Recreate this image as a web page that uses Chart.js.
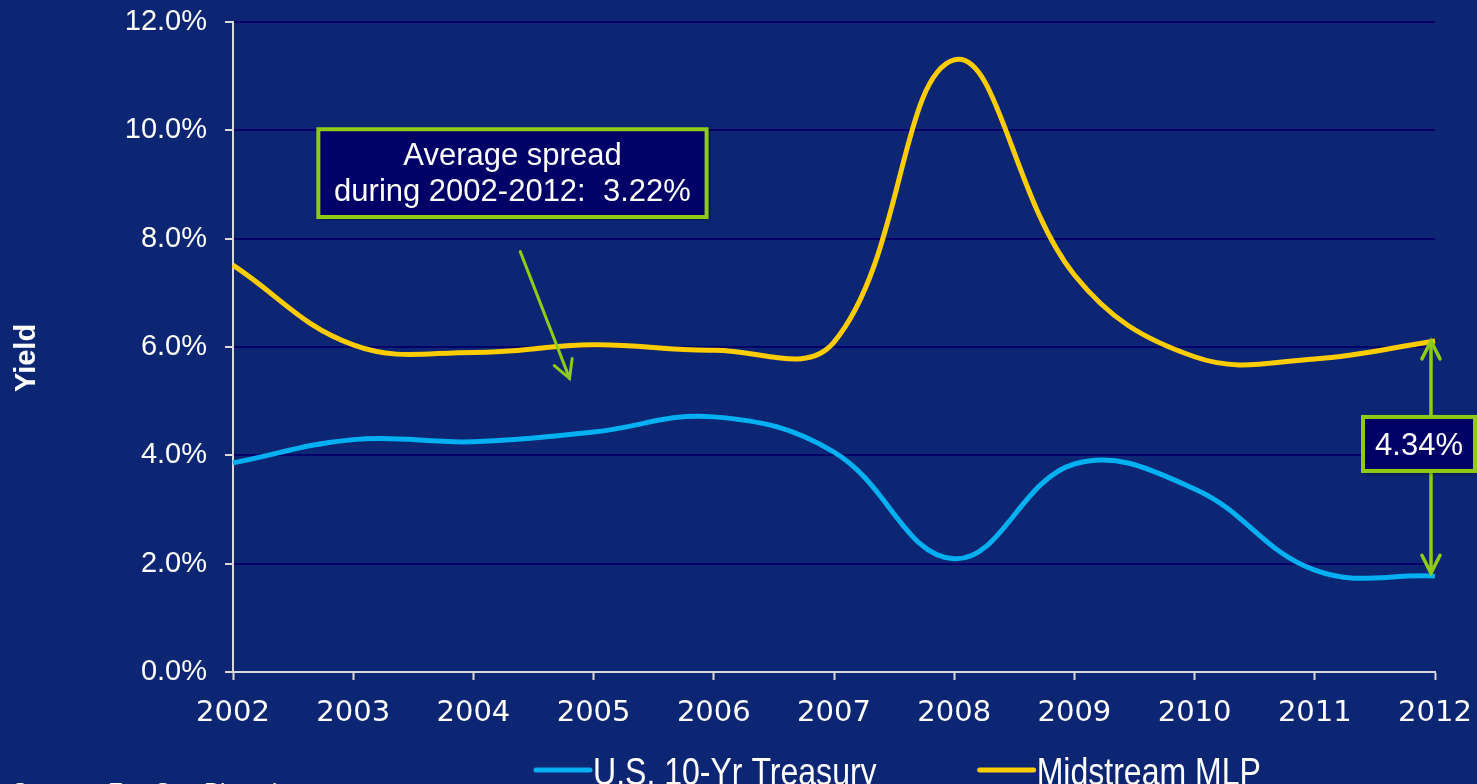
<!DOCTYPE html>
<html>
<head>
<meta charset="utf-8">
<script src="https://cdn.jsdelivr.net/npm/chart.js@4.4.1/dist/chart.umd.min.js"></script>
<style>
  html, body { margin: 0; padding: 0; background: #0c2673; overflow: hidden; width: 1477px; height: 784px; }
  #wrap { position: relative; width: 1477px; height: 820px; }
  canvas { display: block; }
</style>
</head>
<body>
<div id="wrap"><canvas id="yieldChart" width="1477" height="820"></canvas></div>
<script>
// Year-end yields, percent
const years = ['2002', '2003', '2004', '2005', '2006', '2007', '2008', '2009', '2010', '2011', '2012'];
const treasuryYield = [3.86, 4.29, 4.25, 4.43, 4.71, 4.06, 2.09, 3.84, 3.38, 1.88, 1.77];
const mlpYield = [7.51, 6.04, 5.90, 6.04, 5.94, 6.09, 11.30, 7.33, 5.82, 5.78, 6.11];
const seriesNames = ['U.S. 10-Yr Treasury', 'Midstream MLP'];
const yAxisMin = 0;
const yAxisMax = 12;
const yAxisStep = 2;
const averageSpreadLines = ['Average spread', 'during 2002-2012:  3.22%'];
const sourceNote = 'Source:  FactSet, Bloomberg';

const GREEN = '#8fcb14';
const BOX_FILL = '#000066';
const AXIS = '#d9d9d9';
const CURVE_TENSION = 0.4;

function drawArrowHead(ctx, tipX, tipY, fromX, fromY, len, angle) {
  const a = Math.atan2(fromY - tipY, fromX - tipX);
  ctx.beginPath();
  ctx.moveTo(tipX + len * Math.cos(a - angle), tipY + len * Math.sin(a - angle));
  ctx.lineTo(tipX, tipY);
  ctx.lineTo(tipX + len * Math.cos(a + angle), tipY + len * Math.sin(a + angle));
  ctx.stroke();
}

function drawNoteBox(ctx, left, top, right, bottom) {
  ctx.save();
  ctx.shadowColor = 'rgba(0,0,0,0.45)';
  ctx.shadowBlur = 4;
  ctx.shadowOffsetX = 2;
  ctx.shadowOffsetY = 2;
  ctx.fillStyle = BOX_FILL;
  ctx.fillRect(left, top, right - left, bottom - top);
  ctx.restore();
  ctx.save();
  ctx.strokeStyle = GREEN;
  ctx.lineWidth = 4;
  ctx.strokeRect(left, top, right - left, bottom - top);
  ctx.restore();
}

// Narrow-looking text: regular face squeezed horizontally
function fillNarrowText(ctx, text, x, y, squeeze) {
  ctx.save();
  ctx.translate(x, y);
  ctx.scale(squeeze, 1);
  ctx.fillText(text, 0, 0);
  ctx.restore();
  return ctx.measureText(text).width * squeeze;
}

// Callouts, legend, axis title and source line
const notesPlugin = {
  id: 'yieldNotes',
  afterDatasetsDraw(chart) {
    const { ctx, scales: { x, y } } = chart;
    const last = years.length - 1;

    // Average spread callout
    const bL = x.getPixelForValue(0.71), bR = x.getPixelForValue(3.94);
    const bT = y.getPixelForValue(10.02), bB = y.getPixelForValue(8.40);
    drawNoteBox(ctx, bL, bT, bR, bB);
    ctx.save();
    ctx.fillStyle = '#ffffff';
    ctx.font = '31px "Liberation Sans", Arial, sans-serif';
    ctx.textAlign = 'center';
    ctx.textBaseline = 'alphabetic';
    const cx = (bL + bR) / 2;
    ctx.fillText(averageSpreadLines[0], cx, bT + 36);
    ctx.fillText(averageSpreadLines[1], cx, bT + 72);
    ctx.restore();

    // Pointer from the callout down to the MLP line
    ctx.save();
    ctx.strokeStyle = GREEN;
    ctx.lineWidth = 3;
    ctx.lineCap = 'round';
    const ax1 = x.getPixelForValue(2.39), ay1 = y.getPixelForValue(7.76);
    const ax2 = x.getPixelForValue(2.80), ay2 = y.getPixelForValue(5.42);
    ctx.beginPath();
    ctx.moveTo(ax1, ay1);
    ctx.lineTo(ax2, ay2);
    ctx.stroke();
    drawArrowHead(ctx, ax2, ay2, ax1, ay1, 20, 0.5);
    ctx.restore();

    // Current spread between the two series
    const spread = mlpYield[last] - treasuryYield[last];
    const sx = x.getPixelForValue(last) - 4;
    const sTop = y.getPixelForValue(mlpYield[last]);
    const sBot = y.getPixelForValue(treasuryYield[last]) - 3;
    ctx.save();
    ctx.strokeStyle = GREEN;
    ctx.lineWidth = 3.5;
    ctx.lineCap = 'round';
    ctx.beginPath();
    ctx.moveTo(sx, sTop);
    ctx.lineTo(sx, sBot);
    ctx.stroke();
    drawArrowHead(ctx, sx, sTop, sx, sBot, 20, 0.47);
    drawArrowHead(ctx, sx, sBot, sx, sTop, 20, 0.47);
    ctx.restore();

    const midY = y.getPixelForValue(4.21);
    const sL = sx - 68, sR = sx + 44;
    drawNoteBox(ctx, sL, midY - 27, sR, midY + 27);
    ctx.save();
    ctx.fillStyle = '#ffffff';
    ctx.font = '31px "Liberation Sans", Arial, sans-serif';
    ctx.textAlign = 'center';
    ctx.textBaseline = 'alphabetic';
    ctx.fillText(spread.toFixed(2) + '%', (sL + sR) / 2, midY + 11);
    ctx.restore();
  },
  afterDraw(chart) {
    const { ctx } = chart;

    // Axis title
    ctx.save();
    ctx.translate(35, 358);
    ctx.rotate(-Math.PI / 2);
    ctx.fillStyle = '#ffffff';
    ctx.font = 'bold 29px "Liberation Sans", Arial, sans-serif';
    ctx.textAlign = 'center';
    ctx.textBaseline = 'alphabetic';
    ctx.fillText('Yield', 0, 0);
    ctx.restore();

    // Legend
    ctx.save();
    ctx.font = '38px "Liberation Sans", Arial, sans-serif';
    ctx.textBaseline = 'alphabetic';
    ctx.textAlign = 'left';
    ctx.fillStyle = '#ffffff';
    let lx = 536;
    chart.data.datasets.forEach((ds) => {
      ctx.strokeStyle = ds.borderColor;
      ctx.lineWidth = 5;
      ctx.lineCap = 'round';
      ctx.beginPath();
      ctx.moveTo(lx, 770);
      ctx.lineTo(lx + 54, 770);
      ctx.stroke();
      const w = fillNarrowText(ctx, ds.label, lx + 57, 785, 0.843);
      lx += 57 + w + 103;
    });
    ctx.restore();

    // Source line
    ctx.save();
    ctx.fillStyle = '#ffffff';
    ctx.font = '24px "Liberation Sans", Arial, sans-serif';
    ctx.textAlign = 'left';
    ctx.textBaseline = 'alphabetic';
    ctx.fillText(sourceNote, 12, 800);
    ctx.restore();
  }
};

new Chart(document.getElementById('yieldChart'), {
  type: 'line',
  data: {
    labels: years,
    datasets: [
      {
        label: seriesNames[0],
        data: treasuryYield,
        borderColor: '#00b0f0',
        borderWidth: 5,
        pointRadius: 0,
        tension: CURVE_TENSION,
        fill: false
      },
      {
        label: seriesNames[1],
        data: mlpYield,
        borderColor: '#ffcc00',
        borderWidth: 5,
        pointRadius: 0,
        tension: CURVE_TENSION,
        fill: false
      }
    ]
  },
  options: {
    responsive: false,
    animation: false,
    layout: { padding: { top: 22, right: 42, bottom: 0, left: 0 } },
    plugins: {
      legend: { display: false },
      tooltip: { enabled: false }
    },
    scales: {
      x: {
        type: 'category',
        offset: false,
        afterFit: (s) => { s.height = 148; s.paddingLeft = 0; s.paddingRight = 0; },
        grid: { drawOnChartArea: false, tickLength: 8, tickColor: AXIS, tickWidth: 2 },
        border: { color: AXIS, width: 2 },
        ticks: {
          color: '#ffffff',
          padding: 16,
          maxRotation: 0,
          autoSkip: false,
          font: { family: '"DejaVu Sans", Verdana, sans-serif', size: 29 }
        }
      },
      y: {
        min: yAxisMin,
        max: yAxisMax,
        afterFit: (s) => { s.width = 233; s.paddingTop = 0; s.paddingBottom = 0; },
        grid: { color: '#000066', lineWidth: 2, tickLength: 8, tickColor: AXIS, tickWidth: 2 },
        border: { color: AXIS, width: 2 },
        ticks: {
          stepSize: yAxisStep,
          color: '#ffffff',
          padding: 18,
          font: { family: '"Liberation Sans", Arial, sans-serif', size: 29 },
          callback: (v) => v.toFixed(1) + '%'
        }
      }
    }
  },
  plugins: [notesPlugin]
});
</script>
</body>
</html>
